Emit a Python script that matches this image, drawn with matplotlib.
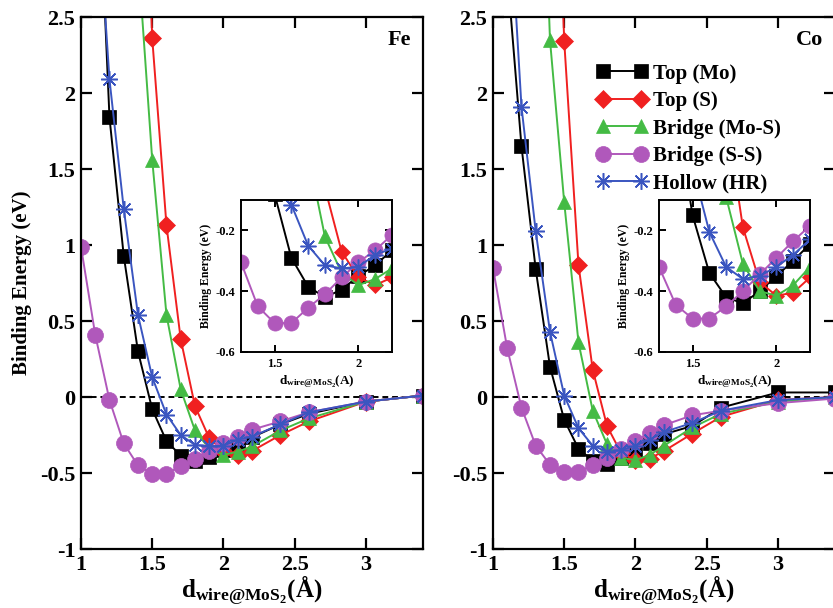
import numpy as np
import matplotlib
matplotlib.use("Agg")
import matplotlib.pyplot as plt
from matplotlib.ticker import MultipleLocator, FormatStrFormatter

plt.rcParams['font.family'] = ['Liberation Serif', 'DejaVu Serif']
plt.rcParams['font.weight'] = 'bold'
plt.rcParams['axes.unicode_minus'] = False
plt.rcParams['mathtext.fontset'] = 'custom'
plt.rcParams['mathtext.rm'] = 'Liberation Serif:bold'
plt.rcParams['mathtext.bf'] = 'Liberation Serif:bold'
plt.rcParams['mathtext.it'] = 'Liberation Serif:bold:italic'

labels = ["Top (Mo)", "Top (S)", "Bridge (Mo-S)", "Bridge (S-S)", "Hollow (HR)"]
colors = ["black", "#f02020", "#44bb44", "#b058bb", "#3a55c0"]
markers = ["s", "D", "^", "o", (8, 2, 0)]

# ---- Fe ----
fe_top_mo_x = [1.1, 1.2, 1.3, 1.4, 1.5, 1.6, 1.7, 1.8, 1.9, 2.0, 2.1, 2.2, 2.4, 2.6, 3.0, 3.4]
fe_top_mo_y = [4.0, 1.84, 0.93, 0.30, -0.08, -0.29, -0.385, -0.42, -0.395, -0.35, -0.315, -0.265, -0.18, -0.11, -0.03, 0.01]

fe_top_s_x = [1.4, 1.5, 1.6, 1.7, 1.8, 1.9, 2.0, 2.1, 2.2, 2.4, 2.6, 3.0, 3.4]
fe_top_s_y = [5.0, 2.36, 1.13, 0.38, -0.06, -0.27, -0.355, -0.38, -0.355, -0.25, -0.16, -0.03, 0.01]

fe_bridge_mos_x = [1.4, 1.5, 1.6, 1.7, 1.8, 1.9, 2.0, 2.1, 2.2, 2.4, 2.6, 3.0, 3.4]
fe_bridge_mos_y = [2.9, 1.56, 0.54, 0.05, -0.22, -0.34, -0.38, -0.36, -0.325, -0.22, -0.14, -0.03, 0.01]

fe_bridge_ss_x = [1.0, 1.1, 1.2, 1.3, 1.4, 1.5, 1.6, 1.7, 1.8, 1.9, 2.0, 2.1, 2.2, 2.4, 2.6, 3.0, 3.4]
fe_bridge_ss_y = [0.99, 0.41, -0.02, -0.305, -0.45, -0.505, -0.505, -0.455, -0.41, -0.355, -0.305, -0.265, -0.215, -0.16, -0.10, -0.03, 0.01]

fe_hollow_x = [1.1, 1.2, 1.3, 1.4, 1.5, 1.6, 1.7, 1.8, 1.9, 2.0, 2.1, 2.2, 2.4, 2.6, 3.0, 3.4]
fe_hollow_y = [3.5, 2.09, 1.24, 0.54, 0.13, -0.115, -0.25, -0.315, -0.325, -0.32, -0.28, -0.26, -0.18, -0.10, -0.03, 0.01]

# ---- Co ----
co_top_mo_x = [1.1, 1.2, 1.3, 1.4, 1.5, 1.6, 1.7, 1.8, 1.9, 2.0, 2.1, 2.2, 2.4, 2.6, 3.0, 3.4]
co_top_mo_y = [2.8, 1.65, 0.84, 0.20, -0.15, -0.34, -0.42, -0.44, -0.40, -0.35, -0.30, -0.245, -0.19, -0.07, 0.03, 0.03]

co_top_s_x = [1.4, 1.5, 1.6, 1.7, 1.8, 1.9, 2.0, 2.1, 2.2, 2.4, 2.6, 3.0, 3.4]
co_top_s_y = [5.0, 2.34, 0.87, 0.18, -0.19, -0.37, -0.415, -0.405, -0.355, -0.24, -0.13, -0.02, 0.0]

co_bridge_mos_x = [1.3, 1.4, 1.5, 1.6, 1.7, 1.8, 1.9, 2.0, 2.1, 2.2, 2.4, 2.6, 3.0, 3.4]
co_bridge_mos_y = [5.0, 2.35, 1.28, 0.36, -0.09, -0.31, -0.40, -0.415, -0.38, -0.32, -0.20, -0.11, -0.03, 0.0]

co_bridge_ss_x = [1.0, 1.1, 1.2, 1.3, 1.4, 1.5, 1.6, 1.7, 1.8, 1.9, 2.0, 2.1, 2.2, 2.4, 2.6, 3.0, 3.4]
co_bridge_ss_y = [0.85, 0.32, -0.07, -0.32, -0.445, -0.49, -0.49, -0.45, -0.40, -0.345, -0.29, -0.235, -0.185, -0.12, -0.09, -0.04, -0.01]

co_hollow_x = [1.1, 1.2, 1.3, 1.4, 1.5, 1.6, 1.7, 1.8, 1.9, 2.0, 2.1, 2.2, 2.4, 2.6, 3.0, 3.4]
co_hollow_y = [3.5, 1.91, 1.09, 0.43, 0.01, -0.205, -0.32, -0.36, -0.35, -0.32, -0.28, -0.23, -0.17, -0.09, -0.02, 0.0]

fe_series = [(fe_top_mo_x, fe_top_mo_y), (fe_top_s_x, fe_top_s_y), (fe_bridge_mos_x, fe_bridge_mos_y),
             (fe_bridge_ss_x, fe_bridge_ss_y), (fe_hollow_x, fe_hollow_y)]
co_series = [(co_top_mo_x, co_top_mo_y), (co_top_s_x, co_top_s_y), (co_bridge_mos_x, co_bridge_mos_y),
             (co_bridge_ss_x, co_bridge_ss_y), (co_hollow_x, co_hollow_y)]

msizes = [10, 9, 10.5, 11.5, 12]
xlabel_main = r'$\mathbf{d}_{\mathbf{wire@MoS}_{\mathbf{2}}}\mathbf{(Å)}$'
xlabel_inset = r'$\mathbf{d}_{\mathbf{wire@MoS}_{\mathbf{2}}}\mathbf{(A)}$'


def draw_series(ax, series, ms_scale=1.0):
    for (x, y), lab, c, m, ms in zip(series, labels, colors, markers, msizes):
        star = not isinstance(m, str)
        ax.plot(x, y, color=c, marker=m, markersize=ms * ms_scale, lw=1.4,
                markeredgecolor=c, markeredgewidth=1.1 if star else 0.5,
                markerfacecolor=c, label=lab)


def style_axis(ax, size, length, width):
    ax.tick_params(direction='in', top=True, right=True, length=length, width=width,
                   labelsize=size, pad=4)
    for s in ax.spines.values():
        s.set_linewidth(width)
    for t in ax.get_xticklabels() + ax.get_yticklabels():
        t.set_fontweight('bold')


fig = plt.figure(figsize=(8.33, 6.08), dpi=100)

panels = [("Fe", fe_series, 0.0972, 0.2893), ("Co", co_series, 0.5918, 0.7911)]
for name, series, left, inset_left in panels:
    ax = fig.add_axes([left, 0.097, 0.4106, 0.875])
    draw_series(ax, series)
    ax.axhline(0, color='black', ls=(0, (3, 2)), lw=1.4, zorder=1)
    ax.set_xlim(1, 3.4)
    ax.set_ylim(-1, 2.5)
    ax.xaxis.set_major_locator(MultipleLocator(0.5))
    ax.yaxis.set_major_locator(MultipleLocator(0.5))
    ax.xaxis.set_major_formatter(FormatStrFormatter('%g'))
    ax.yaxis.set_major_formatter(FormatStrFormatter('%g'))
    style_axis(ax, 16, 8, 1.6)
    ax.set_xlabel(xlabel_main, fontsize=18, labelpad=-1)
    ax.text(0.965, 0.975, name, transform=ax.transAxes, ha='right', va='top',
            fontsize=16, fontweight='bold')
    if name == "Fe":
        ax.set_ylabel("Binding Energy (eV)", fontsize=15, fontweight='bold', labelpad=6)
    else:
        ax.legend(loc='upper left', bbox_to_anchor=(0.28, 0.928), frameon=False,
                  numpoints=2, handlelength=2.4, fontsize=15, labelspacing=0.36,
                  handletextpad=0.3, borderaxespad=0)

    ins = fig.add_axes([inset_left, 0.4211, 0.1813, 0.25])
    draw_series(ins, series, ms_scale=0.95)
    ins.set_xlim(1.3, 2.2)
    ins.set_ylim(-0.6, -0.1)
    ins.xaxis.set_major_locator(MultipleLocator(0.5))
    ins.yaxis.set_major_locator(MultipleLocator(0.2))
    ins.xaxis.set_major_formatter(FormatStrFormatter('%g'))
    ins.yaxis.set_major_formatter(FormatStrFormatter('%g'))
    style_axis(ins, 9, 5, 1.4)
    ins.set_ylabel("Binding Energy (eV)", fontsize=8.5, fontweight='bold', labelpad=3)
    ins.set_xlabel(xlabel_inset, fontsize=9.5, labelpad=3)

fig.savefig("out.png", dpi=100)
